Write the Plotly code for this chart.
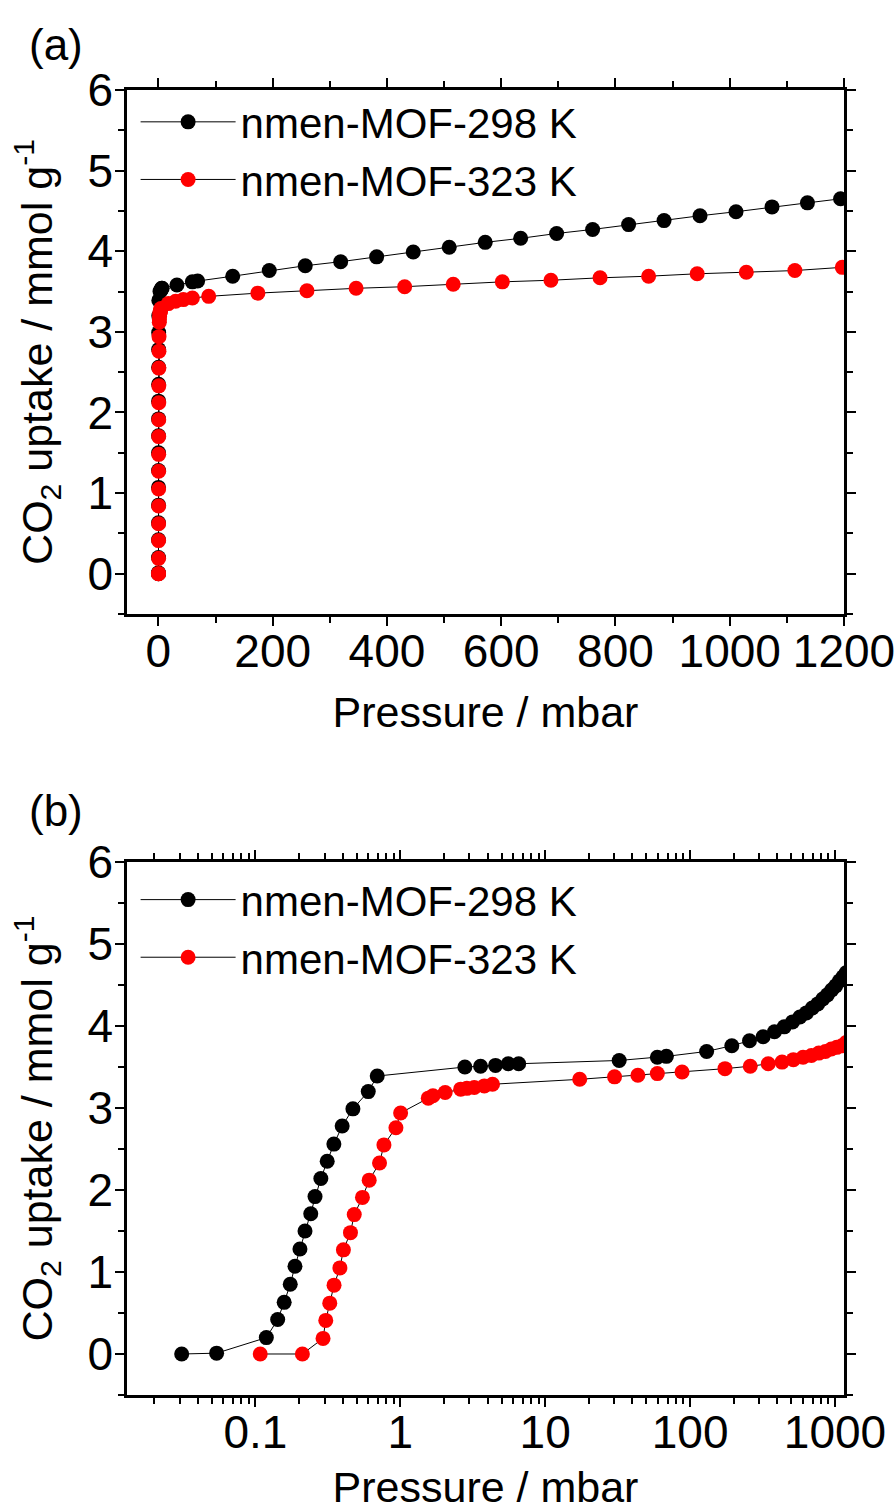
import plotly.graph_objects as go

# ---- data (pressure in mbar, uptake in mmol/g) ----
p_298 = [0.031, 0.054, 0.119, 0.1425, 0.158, 0.174, 0.1876, 0.203, 0.220, 0.241,
         0.258, 0.283, 0.313, 0.348, 0.397, 0.471, 0.601, 0.693,
         2.79, 3.58, 4.54, 5.56, 6.56, 32.4, 59.4, 68.6,
         130, 194, 257, 319, 382, 446, 509, 572, 634, 697, 760, 823, 885, 948,
         1011, 1074, 1136, 1194]
q_298 = [0.0, 0.01, 0.20, 0.42, 0.63, 0.85, 1.07, 1.28, 1.50, 1.71,
         1.92, 2.14, 2.35, 2.56, 2.78, 2.99, 3.20, 3.39,
         3.50, 3.51, 3.52, 3.54, 3.54, 3.58, 3.62, 3.63,
         3.69, 3.76, 3.82, 3.87, 3.93, 3.99, 4.05, 4.11, 4.16, 4.22, 4.27, 4.33, 4.38, 4.44,
         4.49, 4.55, 4.60, 4.65]

p_323 = [0.108, 0.211, 0.293, 0.306, 0.326, 0.349, 0.383, 0.405, 0.453, 0.481,
         0.548, 0.610, 0.719, 0.771, 0.933, 1.005,
         1.56, 1.68, 2.04, 2.61, 2.88, 3.24, 3.80, 4.33,
         17.3, 30.1, 43.6, 59.4, 88,
         174, 260, 346, 431, 516, 602, 687, 773, 858, 943, 1029, 1114, 1197]
q_323 = [0.0, 0.0, 0.19, 0.41, 0.62, 0.84, 1.05, 1.27, 1.48, 1.70,
         1.91, 2.12, 2.33, 2.55, 2.76, 2.94,
         3.12, 3.15, 3.19, 3.23, 3.24, 3.25, 3.27, 3.29,
         3.35, 3.38, 3.40, 3.42, 3.44,
         3.48, 3.51, 3.54, 3.56, 3.59, 3.62, 3.64, 3.67, 3.69, 3.72, 3.74, 3.76, 3.80]

series_names = ["nmen-MOF-298 K", "nmen-MOF-323 K"]
lin_ticks = [0, 200, 400, 600, 800, 1000, 1200]
log_ticks = [0.1, 1, 10, 100, 1000]
log_ticktext = ["0.1", "1", "10", "100", "1000"]
y_ticks = [0, 1, 2, 3, 4, 5, 6]

FONT = "Liberation Sans, Arial, sans-serif"
colors = ["#000000", "#ff0000"]

fig = go.Figure()
for xa, ya, lg in [("x", "y", "legend"), ("x2", "y2", "legend2")]:
    for name, px, qy, col in [(series_names[0], p_298, q_298, colors[0]),
                              (series_names[1], p_323, q_323, colors[1])]:
        fig.add_trace(go.Scatter(
            x=px, y=qy, name=name, xaxis=xa, yaxis=ya, legend=lg,
            mode="lines+markers",
            line=dict(color="#000000", width=1),
            marker=dict(color=col, size=15, line=dict(width=0)),
        ))

axis_common = dict(showline=True, linecolor="black", linewidth=2.5, mirror="ticks",
                   ticks="outside", ticklen=9, tickwidth=2, tickcolor="black",
                   showgrid=False, zeroline=False, automargin=False,
                   tickfont=dict(family=FONT, size=46, color="black"))
minor_common = dict(ticks="outside", ticklen=6, tickwidth=2, tickcolor="black", showgrid=False)

minor_log = [m * 10 ** e for e in range(-2, 4) for m in range(2, 10)]

x_title_font = dict(family=FONT, size=43)
y_title_text = "CO<sub>2</sub> uptake / mmol g<sup>-1</sup>"

fig.update_layout(
    width=896, height=1511,
    margin=dict(l=127, r=52, t=90, b=116, autoexpand=False),
    paper_bgcolor="white", plot_bgcolor="white",
    font=dict(family=FONT, color="black"),
    showlegend=True,
    xaxis=dict(domain=[0, 1], anchor="y", range=[-55, 1200],
               tickmode="array", tickvals=lin_ticks, ticklabelstandoff=-14,
               minor=dict(dtick=100, tick0=0, **minor_common),
               title=dict(text="Pressure / mbar", font=x_title_font, standoff=21),
               **axis_common),
    yaxis=dict(domain=[0.5985, 1], anchor="x", range=[-0.5, 6],
               tickmode="array", tickvals=y_ticks, ticklabelstandoff=-7,
               minor=dict(dtick=0.5, tick0=0, **minor_common),
               title=dict(text=y_title_text, font=x_title_font, standoff=22),
               **axis_common),
    xaxis2=dict(domain=[0, 1], anchor="y2", type="log", range=[-1.886, 3.062],
                tickmode="array", tickvals=log_ticks, ticktext=log_ticktext,
                ticklabelstandoff=-14,
                minor=dict(tickmode="array", tickvals=minor_log, **minor_common),
                title=dict(text="Pressure / mbar", font=x_title_font, standoff=21),
                **axis_common),
    yaxis2=dict(domain=[0, 0.4084], anchor="x2", range=[-0.5, 6],
                tickmode="array", tickvals=y_ticks, ticklabelstandoff=-7,
                minor=dict(dtick=0.5, tick0=0, **minor_common),
                title=dict(text=y_title_text, font=x_title_font, standoff=22),
                **axis_common),
    legend=dict(x=0.012, y=1.0015, xanchor="left", yanchor="top",
                bgcolor="rgba(0,0,0,0)", borderwidth=0, itemwidth=95,
                font=dict(family=FONT, size=42, color="black")),
    legend2=dict(x=0.012, y=0.4055, xanchor="left", yanchor="top",
                 bgcolor="rgba(0,0,0,0)", borderwidth=0, itemwidth=95,
                 font=dict(family=FONT, size=42, color="black")),
    annotations=[
        dict(text="(a)", x=-0.14, y=1.035, xref="paper", yref="paper",
             xanchor="left", yanchor="middle", showarrow=False,
             font=dict(family=FONT, size=44, color="black")),
        dict(text="(b)", x=-0.14, y=0.448, xref="paper", yref="paper",
             xanchor="left", yanchor="middle", showarrow=False,
             font=dict(family=FONT, size=44, color="black")),
    ],
)

fig.write_html("out.html")
